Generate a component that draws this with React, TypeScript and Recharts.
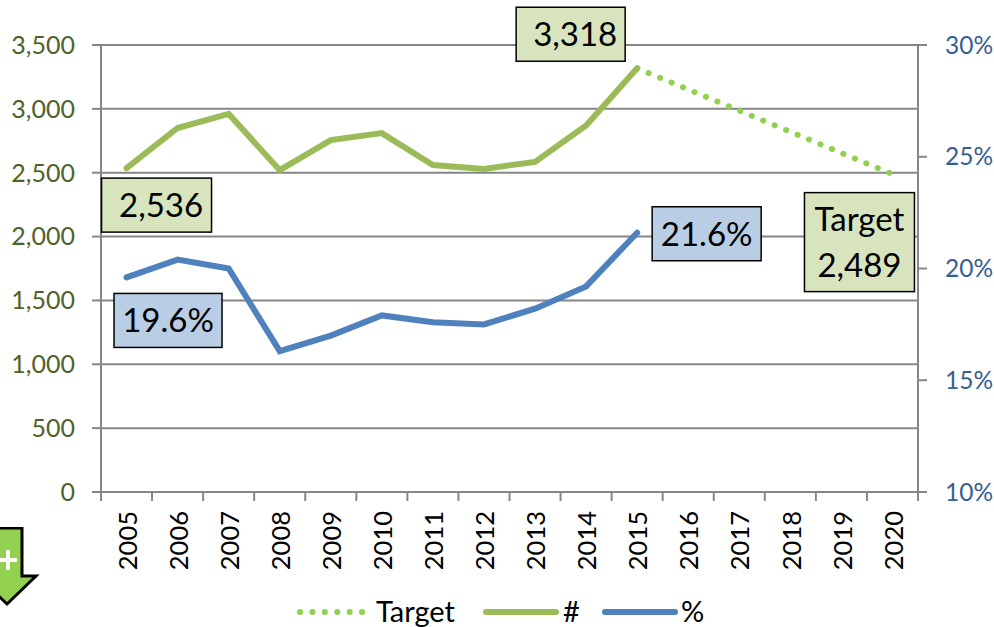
import { ComposedChart, Line, XAxis, YAxis, CartesianGrid, Legend } from "recharts";

const years = ["2005", "2006", "2007", "2008", "2009", "2010", "2011", "2012", "2013", "2014", "2015", "2016", "2017", "2018", "2019", "2020"];
const counts = [2536, 2850, 2960, 2520, 2755, 2810, 2560, 2530, 2585, 2870, 3318, null, null, null, null, null];
const percents = [19.6, 20.4, 20.0, 16.3, 17.0, 17.9, 17.6, 17.5, 18.2, 19.2, 21.6, null, null, null, null, null];
const target = [null, null, null, null, null, null, null, null, null, null, 3318, null, null, null, null, 2489];
const countTicks = [0, 500, 1000, 1500, 2000, 2500, 3000, 3500];
const percentTicks = [10, 15, 20, 25, 30];

const data = years.map((year, i) => ({ year, count: counts[i], percent: percents[i], target: target[i] }));

const FONT = "Lato, sans-serif";
const GRAY = "#868686";
const GREEN = "#9BBB59";
const BLUE = "#4F81BD";
const LIME = "#92D050";
const HALF_BAND = 817 / 32;

function boxLabel(index: number, lines: (v: number) => string[], dx: number, dy: number, w: number, h: number, fill: string, textShift = 0) {
  return (props: any) => {
    if (props.index !== index || props.x == null || props.y == null) return null;
    const cx = props.x + dx;
    const cy = props.y + dy;
    const rows = lines(props.value);
    return (
      <g>
        <rect x={cx - w / 2} y={cy - h / 2} width={w} height={h} fill={fill} stroke="#000" strokeWidth={1.5} />
        {rows.map((row, i) => (
          <text key={i} x={cx + textShift} y={cy + (i - (rows.length - 1) / 2) * 46} dy="0.36em" textAnchor="middle" fontFamily={FONT} fontSize={33} fill="#000">
            {row}
          </text>
        ))}
      </g>
    );
  };
}

function countLabels(props: any) {
  return (
    <g>
      {boxLabel(0, (v) => [v.toLocaleString("en-US")], 30, 37, 110, 54, "#D7E4BD", 4.5)(props)}
      {boxLabel(10, (v) => [v.toLocaleString("en-US")], -66.5, -34, 109, 54, "#D7E4BD", 4.5)(props)}
    </g>
  );
}

function percentLabels(props: any) {
  return (
    <g>
      {boxLabel(0, (v) => [v.toFixed(1) + "%"], 41.5, 43, 108, 54, "#B9CDE5")(props)}
      {boxLabel(10, (v) => [v.toFixed(1) + "%"], 69.5, 1, 109, 54, "#B9CDE5")(props)}
    </g>
  );
}

const targetLabel = boxLabel(15, (v) => ["Target", v.toLocaleString("en-US")], -33, 68, 110, 99, "#D7E4BD");

function YearTick({ x, y, payload, index }: any) {
  const top = y;
  return (
    <g>
      <line x1={x - HALF_BAND} x2={x - HALF_BAND} y1={top} y2={top + 9} stroke={GRAY} strokeWidth={2} />
      {index === years.length - 1 && <line x1={x + HALF_BAND} x2={x + HALF_BAND} y1={top} y2={top + 9} stroke={GRAY} strokeWidth={2} />}
      <text transform={`translate(${x + 1},${top + 19}) rotate(-90)`} dy="0.36em" textAnchor="end" fontFamily={FONT} fontSize={25.5} fill="#000">
        {payload.value}
      </text>
    </g>
  );
}

function LegendRow() {
  const items = [
    { label: "Target", color: LIME, dash: "0.1 12.3", width: 6, lineX: 300, textX: 376 },
    { label: "#", color: GREEN, dash: undefined, width: 6, lineX: 486, textX: 563 },
    { label: "%", color: BLUE, dash: undefined, width: 6, lineX: 605, textX: 681 },
  ];
  return (
    <svg width={994} height={35} style={{ display: "block" }}>
      {items.map((it) => (
        <g key={it.label}>
          <line x1={it.lineX} x2={it.lineX + 70} y1={20} y2={20} stroke={it.color} strokeWidth={it.width} strokeLinecap="round" strokeDasharray={it.dash} />
          <text x={it.textX} y={20} dy="0.36em" fontFamily={FONT} fontSize={29} fill="#000">
            {it.label}
          </text>
        </g>
      ))}
    </svg>
  );
}

export default function App() {
  return (
    <div style={{ position: "absolute", left: 0, top: 0, width: 994, height: 627, overflow: "hidden", background: "#fff" }}>
      <ComposedChart width={994} height={627} data={data} margin={{ top: 45, right: 0, bottom: 0, left: 0 }}>
        <CartesianGrid yAxisId="left" horizontal vertical={false} stroke={GRAY} strokeWidth={2} />
        <XAxis dataKey="year" scale="band" height={100} interval={0} axisLine={{ stroke: GRAY, strokeWidth: 2 }} tickLine={false} tickSize={0} tickMargin={0} tick={<YearTick />} />
        <YAxis
          yAxisId="left"
          width={101}
          domain={[0, 3500]}
          ticks={countTicks}
          interval={0}
          tickFormatter={(v: number) => v.toLocaleString("en-US")}
          axisLine={{ stroke: GRAY, strokeWidth: 2 }}
          tickLine={{ stroke: GRAY, strokeWidth: 2 }}
          tickSize={9}
          tickMargin={17}
          tick={{ fill: "#4F6228", fontSize: 25, fontFamily: FONT }}
        />
        <YAxis
          yAxisId="right"
          orientation="right"
          width={76}
          domain={[10, 30]}
          ticks={percentTicks}
          interval={0}
          tickFormatter={(v: number) => v + "%"}
          axisLine={{ stroke: GRAY, strokeWidth: 2 }}
          tickLine={{ stroke: GRAY, strokeWidth: 2 }}
          tickSize={9}
          tickMargin={18}
          tick={{ fill: "#376092", fontSize: 24.5, fontFamily: FONT }}
        />
        <Legend verticalAlign="bottom" height={35} wrapperStyle={{ left: 0, bottom: 0, width: 994 }} content={<LegendRow />} />
        <Line yAxisId="left" dataKey="target" name="Target" stroke={LIME} strokeWidth={6} strokeLinecap="round" strokeDasharray="0.1 12.3" connectNulls dot={false} isAnimationActive={false} label={targetLabel} />
        <Line yAxisId="left" dataKey="count" name="#" stroke={GREEN} strokeWidth={6} strokeLinecap="round" dot={false} isAnimationActive={false} label={countLabels} />
        <Line yAxisId="right" dataKey="percent" name="%" stroke={BLUE} strokeWidth={6} strokeLinecap="round" dot={false} isAnimationActive={false} label={percentLabels} />
      </ComposedChart>
      <svg width={40} height={80} style={{ position: "absolute", left: 0, top: 527 }}>
        <polygon points="-20,1 22,1 22,49 36,49 7,77 -22,49" fill={LIME} stroke="#000" strokeWidth={3} />
        <path d="M0 33 H17 M8 23 V43" stroke="#fff" strokeWidth={4} />
      </svg>
    </div>
  );
}
